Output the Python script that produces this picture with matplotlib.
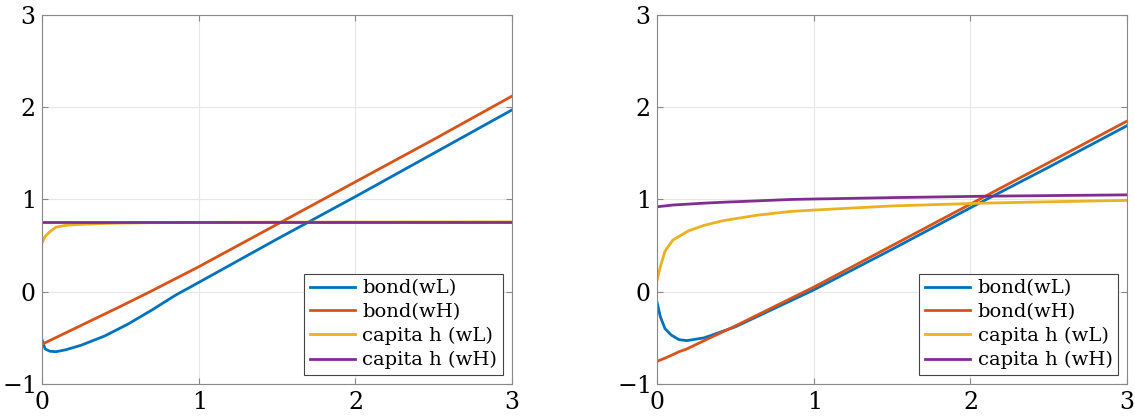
import matplotlib.pyplot as plt

plt.rcParams['font.family'] = ['DejaVu Serif']
plt.rcParams['mathtext.fontset'] = 'cm'
plt.rcParams['axes.formatter.use_mathtext'] = True

# left panel
xL = [0, 0.02, 0.05, 0.09, 0.15, 0.25, 0.4, 0.55, 0.7, 0.85, 1.0, 1.5, 2.0, 2.5, 3.0]
bond_wL_L = [-0.52, -0.62, -0.645, -0.65, -0.63, -0.58, -0.48, -0.35, -0.2, -0.04, 0.1, 0.57, 1.03, 1.5, 1.97]
capita_wL_L = [0.53, 0.6, 0.65, 0.7, 0.72, 0.73, 0.74, 0.745, 0.748, 0.75, 0.752, 0.754, 0.755, 0.756, 0.757]
xL2 = [0, 0.5, 0.69, 1.0, 1.5, 2.0, 2.5, 3.0]
bond_wH_L = [-0.57, -0.16, 0.0, 0.27, 0.73, 1.19, 1.65, 2.12]
xL3 = [0, 3]
capita_wH_L = [0.76, 0.76]

# right panel
xR = [0, 0.02, 0.05, 0.09, 0.14, 0.19, 0.3, 0.5, 0.75, 1.0, 1.5, 2.0, 2.5, 3.0]
bond_wL_R = [-0.12, -0.27, -0.4, -0.47, -0.52, -0.53, -0.5, -0.38, -0.18, 0.02, 0.46, 0.91, 1.35, 1.8]
bond_wH_R = [-0.755, -0.74, -0.72, -0.69, -0.65, -0.62, -0.53, -0.37, -0.16, 0.05, 0.5, 0.95, 1.4, 1.85]
xR2 = [0, 0.02, 0.05, 0.1, 0.2, 0.3, 0.42, 0.64, 0.85, 1.0, 1.5, 2.08, 2.5, 3.0]
capita_wL_R = [0.13, 0.27, 0.44, 0.56, 0.66, 0.72, 0.77, 0.83, 0.87, 0.885, 0.93, 0.96, 0.975, 0.99]
capita_wH_R = [0.92, 0.925, 0.93, 0.94, 0.95, 0.96, 0.97, 0.985, 1.0, 1.005, 1.02, 1.035, 1.042, 1.05]

labels = ['bond(wL)', 'bond(wH)', 'capita h (wL)', 'capita h (wH)']
colors = ['#0072BD', '#D95319', '#EDB120', '#7E2F8E']

fig = plt.figure(figsize=(11.35, 4.16), dpi=100)
ax1 = fig.add_axes([0.037, 0.077, 0.414, 0.887])
ax2 = fig.add_axes([0.579, 0.077, 0.414, 0.887])

panels = [
    (ax1, [(xL, bond_wL_L), (xL2, bond_wH_L), (xL, capita_wL_L), (xL3, capita_wH_L)]),
    (ax2, [(xR, bond_wL_R), (xR, bond_wH_R), (xR2, capita_wL_R), (xR2, capita_wH_R)]),
]

for ax, series in panels:
    for (x, y), lab, c in zip(series, labels, colors):
        ax.plot(x, y, color=c, lw=2, label=lab)
    ax.set_xlim(0, 3)
    ax.set_ylim(-1, 3)
    ax.set_xticks([0, 1, 2, 3])
    ax.set_yticks([-1, 0, 1, 2, 3])
    ax.grid(True, color='#e6e6e6', lw=0.8)
    ax.set_axisbelow(True)
    ax.tick_params(direction='in', length=4, labelsize=17, color='#888888',
                   top=True, right=True, pad=5)
    for s in ax.spines.values():
        s.set_color('#888888')
        s.set_linewidth(0.8)
    leg = ax.legend(loc='lower right', fontsize=14, fancybox=False, framealpha=1,
                    edgecolor='#444444', handlelength=2.3, borderpad=0.3,
                    labelspacing=0.3, handletextpad=0.4, borderaxespad=0.45)
    leg.get_frame().set_linewidth(0.8)

fig.savefig('out.png', dpi=100)
